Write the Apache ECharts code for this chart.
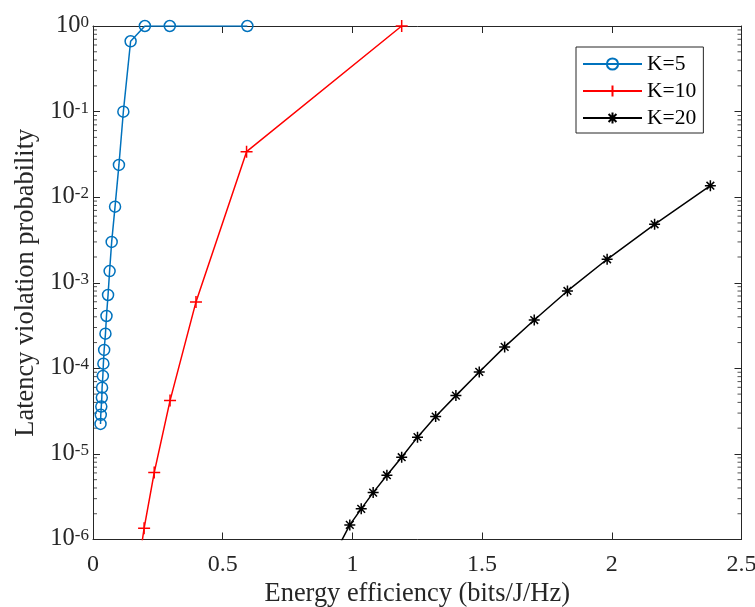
<!DOCTYPE html>
<html>
<head>
<meta charset="utf-8">
<script src="https://cdn.jsdelivr.net/npm/echarts@6/dist/echarts.min.js"></script>
<style>
  html, body { margin: 0; padding: 0; background: #fff; }
  #main { width: 755px; height: 607px; }
</style>
</head>
<body>
<div id="main"></div>
<script>
// K=5
var k5X = [0.595, 0.296, 0.2, 0.145, 0.117, 0.1, 0.085, 0.072, 0.064, 0.058, 0.052, 0.048, 0.043, 0.040, 0.038, 0.035, 0.034, 0.032, 0.030, 0.029];
var k5Y = [1, 1, 1, 0.663, 0.0997, 0.0238, 0.00774, 0.0030, 0.00137, 7.2e-4, 4.09e-4, 2.54e-4, 1.64e-4, 1.135e-4, 8.15e-5, 5.95e-5, 4.55e-5, 3.57e-5, 2.86e-5, 2.24e-5];
// K=10
var k10X = [1.19, 0.592, 0.397, 0.297, 0.236, 0.197, 0.17];
var k10Y = [1, 0.034, 5.97e-4, 4.2e-5, 6.05e-6, 1.35e-6, 3.8e-7];
// K=20
var k20X = [2.38, 2.165, 1.982, 1.829, 1.701, 1.587, 1.489, 1.399, 1.321, 1.251, 1.19, 1.133, 1.08, 1.034, 0.99, 0.951];
var k20Y = [0.0136, 4.82e-3, 1.88e-3, 8.02e-4, 3.67e-4, 1.78e-4, 9.08e-5, 4.8e-5, 2.73e-5, 1.57e-5, 9.15e-6, 5.64e-6, 3.53e-6, 2.28e-6, 1.48e-6, 8.8e-7];

var xTicks = ['0', '0.5', '1', '1.5', '2', '2.5'];
var yExponents = [-6, -5, -4, -3, -2, -1, 0];
var minorMantissa = [2, 3, 4, 5, 6, 7, 8, 9];

function pairs(xs, ys) {
  return xs.map(function (x, i) { return [x, ys[i]]; });
}

// minor tick positions of the log axis (2..9 in every decade), left and right edge
var minorLeft = [];
var minorRight = [];
yExponents.slice(0, -1).forEach(function (e) {
  minorMantissa.forEach(function (m) {
    minorLeft.push([0, m * Math.pow(10, e)]);
    minorRight.push([2.5, m * Math.pow(10, e)]);
  });
});

var axisColor = '#262626';
var font = 'Liberation Serif';
var plusPath = 'path://M5,0L5,10M0,5L10,5';
var starPath = 'path://M5,0L5,10M0,5L10,5M1.5,1.5L8.5,8.5M1.5,8.5L8.5,1.5';

function minorSeries(data, offset) {
  return {
    type: 'scatter',
    data: data,
    symbol: 'rect',
    symbolSize: [4, 1],
    symbolOffset: [offset, 0],
    silent: true,
    clip: false,
    z: 1,
    itemStyle: { color: axisColor }
  };
}

var myChart = echarts.init(document.getElementById('main'));
var option = {
  animation: false,
  backgroundColor: '#fff',
  textStyle: { fontFamily: font },
  grid: { left: 93, right: 13.5, top: 26, bottom: 67.5, containLabel: false, outerBoundsMode: 'none' },
  legend: {
    orient: 'vertical',
    left: 576,
    top: 47,
    padding: [6, 7, 4, 6],
    itemWidth: 59,
    itemHeight: 14,
    itemGap: 5,
    backgroundColor: '#fff',
    borderColor: axisColor,
    borderWidth: 1,
    textStyle: { fontFamily: font, fontSize: 21.6, color: '#000' },
    data: ['K=5', 'K=10', 'K=20']
  },
  xAxis: [
    {
      type: 'value',
      min: 0,
      max: 2.5,
      interval: 0.5,
      name: 'Energy efficiency (bits/J/Hz)',
      nameLocation: 'middle',
      nameGap: 39.5,
      nameTextStyle: { fontFamily: font, fontSize: 26.4, color: '#262626' },
      axisLine: { onZero: false, lineStyle: { color: axisColor, width: 1 } },
      axisTick: { inside: true, length: 7, lineStyle: { color: axisColor } },
      axisLabel: {
        margin: 13,
        fontFamily: font, fontSize: 24, color: '#262626',
        formatter: function (v) { return xTicks[Math.round(v / 0.5)]; }
      },
      splitLine: { show: false }
    },
    {
      type: 'value',
      position: 'top',
      min: 0,
      max: 2.5,
      interval: 0.5,
      axisLine: { onZero: false, lineStyle: { color: axisColor, width: 1 } },
      axisTick: { inside: true, length: 7, lineStyle: { color: axisColor } },
      axisLabel: { show: false },
      splitLine: { show: false }
    }
  ],
  yAxis: [
    {
      type: 'log',
      logBase: 10,
      min: 1e-6,
      max: 1,
      name: 'Latency violation probability',
      nameLocation: 'middle',
      nameGap: 53,
      nameTextStyle: { fontFamily: font, fontSize: 26.4, color: '#262626' },
      axisLine: { onZero: false, lineStyle: { color: axisColor, width: 1 } },
      axisTick: { inside: true, length: 7, lineStyle: { color: axisColor } },
      axisLabel: {
        margin: 4,
        formatter: function (v) {
          var e = Math.round(Math.log10(v));
          return '{b|10}{s|' + e + '}';
        },
        rich: {
          b: { fontFamily: font, fontSize: 24.5, lineHeight: 24, color: '#262626', verticalAlign: 'bottom', padding: [6, 0, 0, 0] },
          s: { fontFamily: font, fontSize: 17, lineHeight: 17, color: '#262626', verticalAlign: 'top' }
        }
      },
      splitLine: { show: false }
    },
    {
      type: 'log',
      logBase: 10,
      position: 'right',
      min: 1e-6,
      max: 1,
      axisLine: { onZero: false, lineStyle: { color: axisColor, width: 1 } },
      axisTick: { inside: true, length: 7, lineStyle: { color: axisColor } },
      axisLabel: { show: false },
      splitLine: { show: false }
    }
  ],
  series: [
    minorSeries(minorLeft, 2),
    minorSeries(minorRight, -2),
    {
      name: 'K=5',
      type: 'line',
      data: pairs(k5X, k5Y),
      symbol: 'circle',
      symbolSize: 11,
      showAllSymbol: true,
      z: 3,
      lineStyle: { color: '#0072BD', width: 1.5 },
      itemStyle: { color: 'rgba(0,0,0,0)', borderColor: '#0072BD', borderWidth: 1.5 }
    },
    {
      name: 'K=10',
      type: 'line',
      data: pairs(k10X, k10Y),
      symbol: plusPath,
      symbolSize: 12,
      showAllSymbol: true,
      z: 3,
      lineStyle: { color: '#FF0000', width: 1.5 },
      itemStyle: { color: '#FF0000', borderColor: '#FF0000', borderWidth: 1.5 }
    },
    {
      name: 'K=20',
      type: 'line',
      data: pairs(k20X, k20Y),
      symbol: starPath,
      symbolSize: 11,
      showAllSymbol: true,
      z: 3,
      lineStyle: { color: '#000000', width: 1.5 },
      itemStyle: { color: '#000000', borderColor: '#000000', borderWidth: 1.5 }
    }
  ]
};
myChart.setOption(option);
window.onresize = function () { myChart.resize(); };
</script>
</body>
</html>
